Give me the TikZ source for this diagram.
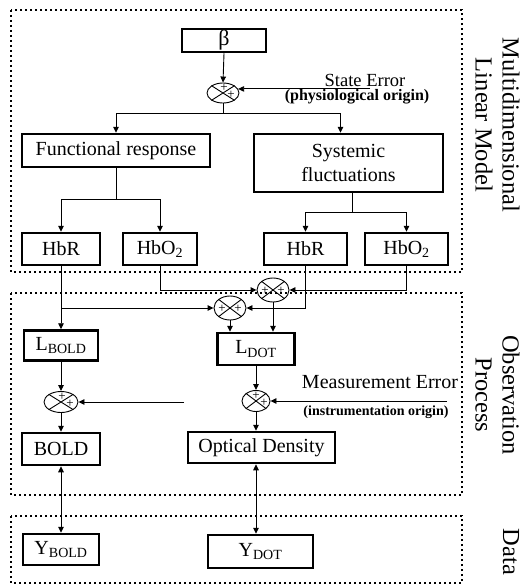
\documentclass[tikz,border=0pt]{standalone}
\usepackage{fontspec}
\setmainfont{Liberation Serif}
\usetikzlibrary{arrows.meta,shapes.geometric,calc}
\begin{document}
\begin{tikzpicture}[x=1pt,y=-1pt,
  box/.style={draw,line width=2.5pt,inner sep=0pt,font=\fontsize{20}{24}\selectfont},
  sumj/.style={draw,ellipse,line width=0.9pt,inner sep=0pt},
  conn/.style={line width=0.9pt},
  arr/.style={conn,-{Triangle[length=6pt,width=5.5pt]}},
  barr/.style={conn,{Triangle[length=6pt,width=5.5pt]}-{Triangle[length=6pt,width=5.5pt]}},
  region/.style={line width=2pt,dash pattern=on 2pt off 3pt},
  plus/.style={inner sep=0pt,font=\fontsize{13}{13}\selectfont},
  side/.style={rotate=-90,align=center,font=\fontsize{24.5}{27}\selectfont,inner sep=0pt},
  errtxt/.style={inner sep=0pt},
  errsub/.style={inner sep=0pt,font=\bfseries\fontsize{16}{17}\selectfont},
]
\useasboundingbox (0,0) rectangle (522,586);
\fill[white] (0,0) rectangle (522,586);

% regions
\draw[region] (11,10) rectangle (462,272);
\draw[region] (11,293) rectangle (462,495);
\draw[region] (11,516) rectangle (462,583);

% side labels
\node[side] (lab1) at (497.5,125) {Multidimensional\\Linear Model};
\node[side] (lab2) at (497.5,395) {Observation\\Process};
\node[side] (lab3) at (511,552) {Data};

% model part
\node[box,minimum width=84pt,minimum height=23pt,font=\fontsize{22}{24}\selectfont] (beta) at (224,40.5) {β};
\node[sumj,minimum width=32pt,minimum height=20pt] (j1) at (223,93) {};
\draw[conn] (j1.north west) -- (j1.south east) (j1.north east) -- (j1.south west);
\node[plus] (j1t) at ($(j1)+(1,-5)$) {+};
\node[plus] (j1r) at ($(j1)+(8,2)$) {+};
\draw[arr] (beta.south) -- (j1.north);

\node[errtxt,font=\fontsize{18.5}{20}\selectfont] (se) at (365,80) {State Error};
\node[errsub] (seo) at (357,97) {(physiological origin)};
\coordinate (sel) at (370,0);
\draw[arr] (sel |- j1.15) -- (j1.15);

\node[box,minimum width=188pt,minimum height=33pt] (fr) at (116,150.5) {Functional response};
\node[box,minimum width=189pt,minimum height=58pt,align=center] (sf) at (348.5,163) {Systemic\\fluctuations};
\coordinate (s1) at (223,113);
\draw[conn] (j1.south) -- (s1);
\draw[arr] (s1) -| (fr.north);
\draw[arr] (s1) -| ([xshift=-8pt]sf.north);

\node[box,minimum width=78pt,minimum height=32pt] (hbr1) at (61,249) {HbR};
\node[box,minimum width=74pt,minimum height=32pt] (hbo1) at (160,249) {HbO\textsubscript{2}};
\node[box,minimum width=83pt,minimum height=32pt] (hbr2) at (305.5,249) {HbR};
\node[box,minimum width=83pt,minimum height=32pt] (hbo2) at (406.5,249) {HbO\textsubscript{2}};

\coordinate (t1) at (116,199);
\draw[conn] (fr.south) -- (t1);
\draw[arr] (t1) -| (hbr1.north);
\draw[arr] (t1) -| (hbo1.north);
\coordinate (t2) at (352,212);
\draw[conn] (sf.south -| t2) -- (t2);
\draw[arr] (t2) -| (hbr2.north);
\draw[arr] (t2) -| (hbo2.north);

% combination
\node[sumj,minimum width=32pt,minimum height=24pt] (j2) at (273,290) {};
\draw[conn] (j2.north west) -- (j2.south east) (j2.north east) -- (j2.south west);
\node[plus] (j2l) at ($(j2)+(-8,1)$) {+};
\node[plus] (j2r) at ($(j2)+(8,1)$) {+};
\node[sumj,minimum width=32pt,minimum height=24pt] (j3) at (230,308) {};
\draw[conn] (j3.north west) -- (j3.south east) (j3.north east) -- (j3.south west);
\node[plus] (j3l) at ($(j3)+(-8,1)$) {+};
\node[plus] (j3r) at ($(j3)+(8,1)$) {+};

\draw[arr] (hbo1.south) |- (j2.west);
\draw[arr] (hbo2.south) |- (j2.east);
\draw[arr] (hbr2.south) |- (j3.east);

\node[box,minimum width=74pt,minimum height=30pt] (lbold) at (61,345.5) {L\textsubscript{BOLD}};
\node[box,minimum width=77pt,minimum height=32pt] (ldot) at (256,349) {L\textsubscript{DOT}};
\draw[arr] (hbr1.south) -- (lbold.north);
\draw[arr] (j3.west -| hbr1.south) -- (j3.west);
\draw[arr] (j3.south) -- (j3.south |- ldot.north);
\draw[arr] (j2.south) -- (j2.south |- ldot.north);

% observation
\node[sumj,minimum width=34pt,minimum height=21pt] (j4) at (61,402) {};
\draw[conn] (j4.north west) -- (j4.south east) (j4.north east) -- (j4.south west);
\node[plus] (j4t) at ($(j4)+(1,-5)$) {+};
\node[plus] (j4r) at ($(j4)+(9,2)$) {+};
\node[sumj,minimum width=28pt,minimum height=21pt] (j5) at (256,401) {};
\draw[conn] (j5.north west) -- (j5.south east) (j5.north east) -- (j5.south west);
\node[plus] (j5t) at ($(j5)+(0,-5)$) {+};
\node[plus] (j5r) at ($(j5)+(8,2)$) {+};

\node[errtxt,font=\fontsize{20}{22}\selectfont] (me) at (380,382) {Measurement Error};
\node[errsub,font=\bfseries\fontsize{14}{15}\selectfont] (meo) at (376,412) {(instrumentation origin)};
\coordinate (me1) at (184,0);
\coordinate (me2) at (447,0);
\draw[arr] (me1 |- j4.east) -- (j4.east);
\draw[arr] (me2 |- j5.east) -- (j5.east);

\draw[arr] (lbold.south) -- (j4.north);
\draw[arr] (ldot.south) -- (j5.north);

\node[box,minimum width=78pt,minimum height=32pt] (bold) at (61,449) {BOLD};
\node[box,minimum width=147pt,minimum height=31pt] (od) at (261.5,447.5) {Optical Density};
\draw[arr] (j4.south) -- (bold.north);
\draw[arr] (j5.south) -- (j5.south |- od.north);

% data
\node[box,minimum width=76pt,minimum height=31pt] (ybold) at (61,549.5) {Y\textsubscript{BOLD}};
\node[box,minimum width=105pt,minimum height=33pt] (ydot) at (260.5,551.5) {Y\textsubscript{DOT}};
\draw[barr] (bold.south) -- (ybold.north);
\draw[barr] (od.south -| j5) -- (ydot.north -| j5);
\end{tikzpicture}
\end{document}
